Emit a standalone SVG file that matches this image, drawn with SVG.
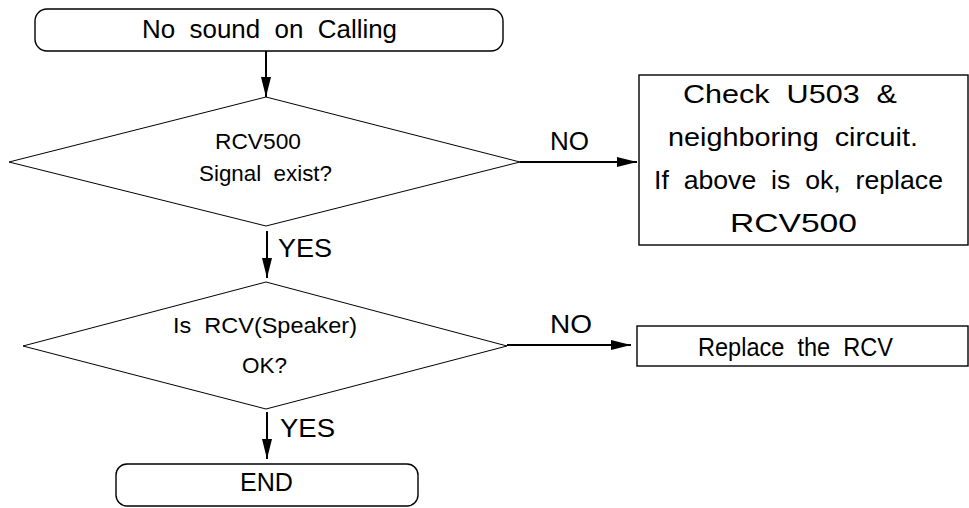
<svg xmlns="http://www.w3.org/2000/svg" width="969" height="508" viewBox="0 0 969 508" xml:space="preserve">
<defs>
<style>
.box{fill:#fff;stroke:#000;stroke-width:1.4}
.dia{fill:#fff;stroke:#000;stroke-width:1}
.t{font-family:"Liberation Sans",Arial,sans-serif;fill:#000;white-space:pre}
.big{font-size:26px}
.mid{font-size:22px}
.con{stroke:#000;stroke-width:2;fill:none}
</style>
<marker id="ah" markerWidth="20" markerHeight="10" refX="20" refY="5" orient="auto" markerUnits="userSpaceOnUse">
<path d="M0,0 L20,5 L0,10 Z" fill="#000"/>
</marker>
</defs>
<rect width="969" height="508" fill="#fff"/>
<g id="connectors">
<line class="con" x1="266" y1="51" x2="266" y2="97" marker-end="url(#ah)"/>
<line class="con" x1="520" y1="162" x2="637" y2="162" marker-end="url(#ah)"/>
<line class="con" x1="267" y1="231" x2="267" y2="278" marker-end="url(#ah)"/>
<line class="con" x1="507" y1="345" x2="631" y2="345" marker-end="url(#ah)"/>
<line class="con" x1="267" y1="412" x2="267" y2="459" marker-end="url(#ah)"/>
<text class="t big" x="550" y="150" textLength="39" lengthAdjust="spacingAndGlyphs">NO</text>
<text class="t big" x="278" y="257" textLength="54" lengthAdjust="spacingAndGlyphs">YES</text>
<text class="t big" x="550" y="333" textLength="42" lengthAdjust="spacingAndGlyphs">NO</text>
<text class="t big" x="280" y="437" textLength="55" lengthAdjust="spacingAndGlyphs">YES</text>
</g>
<g id="start">
<rect class="box" x="35" y="9" width="468" height="42" rx="12" ry="12"/>
<text class="t big" x="142" y="38" textLength="255" lengthAdjust="spacingAndGlyphs">No  sound  on  Calling</text>
</g>
<g id="decision1">
<polygon class="dia" points="266,97 520,162 266,226 9,162"/>
<text class="t mid" x="215" y="149" textLength="86" lengthAdjust="spacingAndGlyphs">RCV500</text>
<text class="t mid" x="199" y="181" textLength="133" lengthAdjust="spacingAndGlyphs">Signal  exist?</text>
</g>
<g id="check">
<rect class="box" x="639" y="75" width="329" height="170"/>
<text class="t big" x="683" y="103" textLength="214" lengthAdjust="spacingAndGlyphs">Check  U503  &amp;</text>
<text class="t big" x="668" y="146" textLength="250" lengthAdjust="spacingAndGlyphs">neighboring  circuit.</text>
<text class="t big" x="654" y="189" textLength="289" lengthAdjust="spacingAndGlyphs">If  above  is  ok,  replace</text>
<text class="t big" x="730" y="232" textLength="127" lengthAdjust="spacingAndGlyphs">RCV500</text>
</g>
<g id="decision2">
<polygon class="dia" points="266,282 507,346 266,409 23,346"/>
<text class="t mid" x="173" y="333" textLength="184" lengthAdjust="spacingAndGlyphs">Is  RCV(Speaker)</text>
<text class="t mid" x="242" y="373" textLength="45" lengthAdjust="spacingAndGlyphs">OK?</text>
</g>
<g id="replace">
<rect class="box" x="637" y="326" width="331" height="40"/>
<text class="t big" x="698" y="356" textLength="195" lengthAdjust="spacingAndGlyphs">Replace  the  RCV</text>
</g>
<g id="end">
<rect class="box" x="116" y="464" width="302" height="42" rx="11" ry="11"/>
<text class="t big" x="240" y="491" textLength="53" lengthAdjust="spacingAndGlyphs">END</text>
</g>
</svg>
